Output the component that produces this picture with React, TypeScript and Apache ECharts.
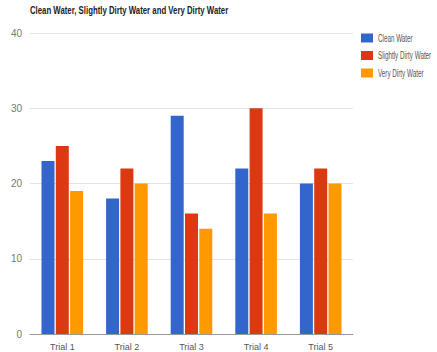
import React, { useEffect, useRef } from "react";
import * as echarts from "echarts";

const titleText = "Clean Water, Slightly Dirty Water and Very Dirty Water";
const categories = ["Trial 1", "Trial 2", "Trial 3", "Trial 4", "Trial 5"];
const cleanWater = [23, 18, 29, 22, 20];
const slightlyDirty = [25, 22, 16, 30, 22];
const veryDirty = [19, 20, 14, 16, 20];
const seriesNames = ["Clean Water", "Slightly Dirty Water", "Very Dirty Water"];
const colors = ["#3366cc", "#dc3912", "#ff9900"];

export default function App() {
  const ref = useRef<HTMLDivElement>(null);
  useEffect(() => {
    if (!ref.current) return;
    const chart = echarts.init(ref.current, null, { renderer: "svg" });
    const font = "Liberation Sans, Arial, sans-serif";
    const data = [cleanWater, slightlyDirty, veryDirty];

    const legendItems: any[] = [];
    seriesNames.forEach((name, i) => {
      const cy = 38 + i * 17.5;
      legendItems.push({
        type: "rect",
        shape: { x: 361, y: cy - 4.5, width: 12, height: 9 },
        style: { fill: colors[i] },
      });
      legendItems.push({
        type: "text",
        x: 378,
        y: cy,
        scaleX: 0.6,
        style: {
          text: name,
          fontSize: 10.5,
          fontFamily: font,
          fill: "#555",
          textVerticalAlign: "middle",
          textAlign: "left",
        },
      });
    });

    chart.setOption({
      animation: false,
      backgroundColor: "#ffffff",
      textStyle: { fontFamily: font },
      legend: { show: false, data: seriesNames },
      graphic: [
        {
          type: "text",
          x: 30,
          y: 11,
          scaleX: 0.78,
          style: {
            text: titleText,
            fontSize: 10,
            fontWeight: "bold",
            fontFamily: font,
            fill: "#222",
            textVerticalAlign: "middle",
            textAlign: "left",
          },
        },
        ...legendItems,
      ],
      grid: { left: 30, right: 84, top: 33, bottom: 18, containLabel: false },
      xAxis: {
        type: "category",
        data: categories,
        axisTick: { show: false },
        axisLine: { lineStyle: { color: "#999", width: 1 } },
        axisLabel: { fontSize: 9, color: "#555", margin: 8, fontFamily: font },
      },
      yAxis: {
        type: "value",
        min: 0,
        max: 40,
        interval: 10,
        axisLine: { show: false },
        axisTick: { show: false },
        splitLine: { lineStyle: { color: "#e3e3e3", width: 1 } },
        axisLabel: { fontSize: 10, color: "#777", margin: 8, fontFamily: font },
      },
      series: seriesNames.map((name, i) => ({
        name,
        type: "bar",
        data: data[i],
        barWidth: 13,
        barGap: "10%",
        itemStyle: { color: colors[i] },
      })),
    });
    return () => chart.dispose();
  }, []);
  return (
    <div
      ref={ref}
      style={{ position: "fixed", left: 0, top: 0, width: 437, height: 352 }}
    />
  );
}
